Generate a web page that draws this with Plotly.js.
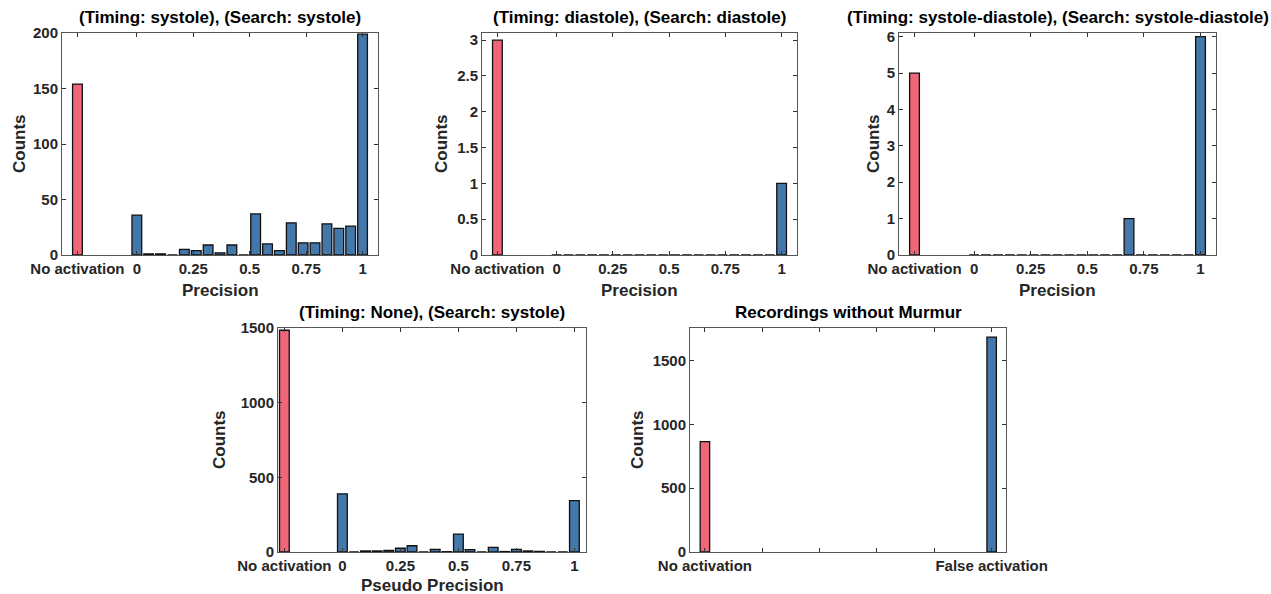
<!DOCTYPE html>
<html>
<head>
<meta charset="utf-8">
<script src="https://cdn.plot.ly/plotly-3.0.1.min.js"></script>
<style>html,body{margin:0;padding:0;background:#fff;}#chart{width:1271px;height:594px;}</style>
</head>
<body>
<div id="chart"></div>
<script>
// ---- data ----
const titles = [
  "(Timing: systole), (Search: systole)",
  "(Timing: diastole), (Search: diastole)",
  "(Timing: systole-diastole), (Search: systole-diastole)",
  "(Timing: None), (Search: systole)",
  "Recordings without Murmur"
];
const xTitles = ["Precision", "Precision", "Precision", "Pseudo Precision", ""];
const precisionTickLabels = ["No activation", "0", "0.25", "0.5", "0.75", "1"];
const precisionTickValues = [0, 0.25, 0.5, 0.75, 1];
const murmurFreeLabels = ["No activation", "False activation"];

// bin indices (19 steps from 0 to 1 for the first row, 20 steps for the pseudo precision plot)
const bins19 = [0,1,2,3,4,5,6,7,8,9,10,11,12,13,14,15,16,17,18,19];
const bins20 = [0,1,2,3,4,5,6,7,8,9,10,11,12,13,14,15,16,17,18,19,20];

const sysNoActivation = 154;
const sysCounts = [36,1,1,0,5,4,9,2,9,0,37,10,4,29,11,11,28,24,26,199];

const diaNoActivation = 3;
const diaCounts = [0,0,0,0,0,0,0,0,0,0,0,0,0,0,0,0,0,0,0,1];

const sysDiaNoActivation = 5;
const sysDiaCounts = [0,0,0,0,0,0,0,0,0,0,0,0,0,1,0,0,0,0,0,6];

const noneNoActivation = 1485;
const noneCounts = [389,0,7,7,11,25,42,0,18,2,120,16,0,31,3,18,7,4,0,0,344];

const murmurFreeCounts = [864, 1683];

// ---- style ----
const RED = "#EE6677", BLUE = "#4477AA";
const TXT = "#262626";
const FONT = "Liberation Sans, Arial, Helvetica, sans-serif";
const W = 1271, H = 594;
const px = v => v / W;
const py = v => 1 - v / H;

// boxes in pixels: [left, right, top, bottom]
const boxes = [
  [62, 378, 33, 255],
  [482, 797, 33, 255],
  [899, 1216, 33, 255],
  [278, 586, 328, 552],
  [690, 1006, 328, 552]
];
const yRanges = [[0,200],[0,3.1],[0,6.1],[0,1500],[0,1754]];
const yTicks = [[0,50,100,150,200],[0,0.5,1,1.5,2,2.5,3],[0,1,2,3,4,5,6],[0,500,1000,1500],[0,500,1000,1500]];

const bar = (x, y, color, xa, ya, w) => ({
  type: "bar", x: x, y: y, xaxis: xa, yaxis: ya, width: w,
  marker: {color: color, line: {color: "#111", width: 1.3}},
  hoverinfo: "x+y", showlegend: false
});

const traces = [];
const layout = {
  width: W, height: H,
  margin: {l: 0, r: 0, t: 0, b: 0},
  paper_bgcolor: "#fff", plot_bgcolor: "#fff",
  font: {family: FONT, color: TXT, size: 15, weight: 700},
  bargap: 0, barmode: "overlay",
  annotations: []
};

const histSets = [
  {noAct: sysNoActivation, counts: sysCounts, bins: bins19, n: 19, range: [-6.3, 20.3]},
  {noAct: diaNoActivation, counts: diaCounts, bins: bins19, n: 19, range: [-6.3, 20.3]},
  {noAct: sysDiaNoActivation, counts: sysDiaCounts, bins: bins19, n: 19, range: [-6.3, 20.3]},
  {noAct: noneNoActivation, counts: noneCounts, bins: bins20, n: 20, range: [-5.55, 21]}
];

function axisCommon() {
  return {
    showline: true, mirror: "ticks", linecolor: "#555", linewidth: 1,
    ticks: "inside", ticklen: 4, tickcolor: "#333", tickwidth: 1,
    showgrid: false, zeroline: false, fixedrange: true,
    tickfont: {family: FONT, size: 15, color: TXT, weight: 700}
  };
}

for (let i = 0; i < 5; i++) {
  const k = i + 1;
  const xa = "x" + (k === 1 ? "" : k), ya = "y" + (k === 1 ? "" : k);
  const b = boxes[i];
  const xAx = axisCommon(), yAx = axisCommon();
  xAx.domain = [px(b[0]), px(b[1])];
  yAx.domain = [py(b[3]), py(b[2])];
  xAx.anchor = ya; yAx.anchor = xa;
  yAx.range = yRanges[i];
  yAx.tickmode = "array"; yAx.tickvals = yTicks[i]; yAx.ticktext = yTicks[i].map(String);

  if (i < 4) {
    const s = histSets[i];
    const noActPos = -5 / s.n;
    const xs = s.bins.map(v => v / s.n);
    const w = (i === 3 ? 0.84 : 0.82) / s.n;
    traces.push(bar([noActPos], [s.noAct], RED, xa, ya, w));
    traces.push(bar(xs, s.counts, BLUE, xa, ya, w));
    xAx.range = [s.range[0] / s.n, s.range[1] / s.n];
    xAx.tickmode = "array";
    xAx.tickvals = [noActPos].concat(precisionTickValues);
    xAx.ticktext = precisionTickLabels;
  } else {
    traces.push(bar([0], [murmurFreeCounts[0]], RED, xa, ya, 0.033));
    traces.push(bar([1], [murmurFreeCounts[1]], BLUE, xa, ya, 0.033));
    xAx.range = [-0.052, 1.05];
    xAx.tickmode = "array";
    xAx.tickvals = [0, 0.2, 0.4, 0.6, 0.8, 1];
    xAx.ticktext = [murmurFreeLabels[0], "", "", "", "", murmurFreeLabels[1]];
  }
  layout["xaxis" + (k === 1 ? "" : k)] = xAx;
  layout["yaxis" + (k === 1 ? "" : k)] = yAx;

  const cx = (b[0] + b[1]) / 2, cy = (b[2] + b[3]) / 2;
  // subplot title
  layout.annotations.push({
    text: titles[i], xref: "paper", yref: "paper", x: px(cx), y: py(b[2] - 4),
    xanchor: "center", yanchor: "bottom", showarrow: false,
    font: {family: FONT, size: 17, color: "#000", weight: 700}
  });
  // y title
  const yTitleX = [19, 441, 873, 219, 637][i];
  layout.annotations.push({
    text: "Counts", xref: "paper", yref: "paper", x: px(yTitleX), y: py(cy),
    xanchor: "center", yanchor: "middle", textangle: -90, showarrow: false,
    font: {family: FONT, size: 17, color: TXT, weight: 700}
  });
  if (xTitles[i]) {
    layout.annotations.push({
      text: xTitles[i], xref: "paper", yref: "paper", x: px(cx), y: py(b[3] + (i === 3 ? 22 : 24)),
      xanchor: "center", yanchor: "top", showarrow: false,
      font: {family: FONT, size: 17, color: TXT, weight: 700}
    });
  }
}

Plotly.newPlot("chart", traces, layout, {displayModeBar: false, staticPlot: true});
</script>
</body>
</html>
